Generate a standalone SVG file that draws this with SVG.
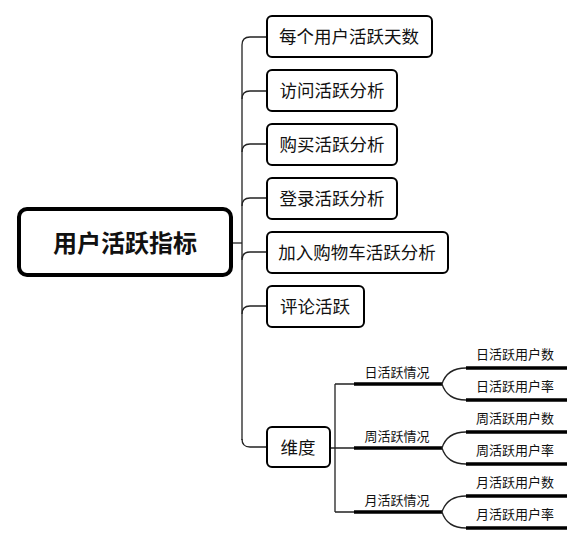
<svg xmlns="http://www.w3.org/2000/svg" width="584" height="545" viewBox="0 0 584 545">
<style>
.box{fill:#fff;stroke:#000;stroke-width:2}
.t{font-family:"Microsoft YaHei","Noto Sans CJK SC",sans-serif;fill:#111;text-anchor:middle}
.tb{font-size:17.5px}
.ts{font-size:13px}
.ln{fill:none;stroke:#222;stroke-width:1.3}
.th{fill:none;stroke:#000;stroke-width:3.5}
</style>
<rect width="584" height="545" fill="#fff"/>
<g id="connectors">
<path class="ln" d="M233,243 H242"/>
<path class="ln" d="M242,440 V45 Q242,37 250,37 H266"/>
<path class="ln" d="M242,99 Q242,91 250,91 H266"/>
<path class="ln" d="M242,152 Q242,144 250,144 H266"/>
<path class="ln" d="M242,206 Q242,198 250,198 H266"/>
<path class="ln" d="M242,260 Q242,252 250,252 H266"/>
<path class="ln" d="M242,314 Q242,306 250,306 H266"/>
<path class="ln" d="M242,439 Q242,447 250,447 H266"/>
<path class="ln" d="M330,448 H335 M335,384 V512 M335,384 H354 M335,448 H354 M335,512 H354"/>
<path class="th" d="M354,384 H442 M354,448 H442 M354,512 H442"/>
<path class="ln" d="M442,384 Q447,368 466,368 M442,384 Q447,400 466,400"/>
<path class="ln" d="M442,448 Q447,432 466,432 M442,448 Q447,464 466,464"/>
<path class="ln" d="M442,512 Q447,496 466,496 M442,512 Q447,528 466,528"/>
<path class="th" d="M466,368 H567 M466,400 H567 M466,432 H567 M466,464 H567 M466,496 H567 M466,528 H567"/>
</g>
<g id="root">
<rect x="19" y="209" width="212" height="66" rx="8" fill="#fff" stroke="#000" stroke-width="4"/>
<text class="t" x="125" y="252" font-size="24" font-weight="bold">用户活跃指标</text>
</g>
<g id="n1"><rect class="box" x="267" y="16" width="165" height="41" rx="5"/><text class="t tb" x="349" y="43">每个用户活跃天数</text></g>
<g id="n2"><rect class="box" x="267" y="70" width="130" height="41" rx="5"/><text class="t tb" x="332" y="97">访问活跃分析</text></g>
<g id="n3"><rect class="box" x="267" y="124" width="130" height="41" rx="5"/><text class="t tb" x="332" y="151">购买活跃分析</text></g>
<g id="n4"><rect class="box" x="267" y="178" width="130" height="41" rx="5"/><text class="t tb" x="332" y="205">登录活跃分析</text></g>
<g id="n5"><rect class="box" x="267" y="232" width="181" height="41" rx="5"/><text class="t tb" x="357" y="259">加入购物车活跃分析</text></g>
<g id="n6"><rect class="box" x="267" y="286" width="97" height="41" rx="5"/><text class="t tb" x="315" y="313">评论活跃</text></g>
<g id="n7"><rect class="box" x="267" y="427" width="63" height="40" rx="5"/><text class="t tb" x="298" y="454">维度</text></g>
<g id="d1"><text class="t ts" x="397" y="377">日活跃情况</text></g>
<g id="d2"><text class="t ts" x="397" y="441">周活跃情况</text></g>
<g id="d3"><text class="t ts" x="397" y="505">月活跃情况</text></g>
<g id="l1"><text class="t ts" x="515" y="359">日活跃用户数</text></g>
<g id="l2"><text class="t ts" x="515" y="391">日活跃用户率</text></g>
<g id="l3"><text class="t ts" x="515" y="423">周活跃用户数</text></g>
<g id="l4"><text class="t ts" x="515" y="455">周活跃用户率</text></g>
<g id="l5"><text class="t ts" x="515" y="487">月活跃用户数</text></g>
<g id="l6"><text class="t ts" x="515" y="519">月活跃用户率</text></g>
</svg>
